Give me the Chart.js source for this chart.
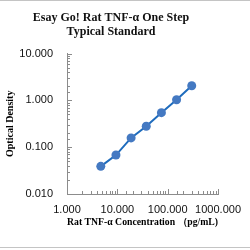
<!DOCTYPE html>
<html>
<head>
<meta charset="utf-8">
<script src="https://cdn.jsdelivr.net/npm/chart.js@4/dist/chart.umd.min.js"></script>
<style>
    html, body { margin: 0 ; padding: 0 ; background: #ffffff ; }
    #wrap { width: 250px ; height: 250px ; }
</style>
</head>
<body>
<div id="wrap"><canvas id="stdCurveCanvas" width="250" height="250"></canvas></div>
<script>
    // ---------------- Chart data ---------------------------------------------
    var concentrations = [ 4.69, 9.38, 18.75, 37.5, 75, 150, 300 ] ;
    var opticalDensity = [ 0.039, 0.068, 0.158, 0.280, 0.547, 1.035, 2.060 ] ;

    var titleLines  = [ 'Esay Go! Rat TNF-α One Step', 'Typical Standard' ] ;
    var xAxisTitle  = 'Rat TNF-α Concentration （pg/mL)' ;
    var yAxisTitle  = 'Optical Density' ;

    var xMin = 1, xMax = 1000 ;
    var yMin = 0.01, yMax = 10 ;

    // ---------------- Local functions ----------------------------------------
    function isDecade( value ) {
        var lg = Math.log10( value ) ;
        return Math.abs( lg - Math.round( lg ) ) < 1e-6 ;
    }

    function decadeLabel( value ) {
        return isDecade( value ) ? Number( value ).toFixed( 3 ) : '' ;
    }

    function getPoints() {
        var pts = [] ;
        for( var i=0; i<concentrations.length; i++ ) {
            pts.push( { x: concentrations[i], y: opticalDensity[i] } ) ;
        }
        return pts ;
    }

    // inside tick marks, like the Excel axes
    var innerTicksPlugin = {
        id : 'innerTicks',
        afterDraw : function( chart ) {
            var ctx = chart.ctx ;
            var xs = chart.scales.x ;
            var ys = chart.scales.y ;
            ctx.save() ;
            ctx.strokeStyle = '#8c8c8c' ;
            ctx.lineWidth = 1 ;
            ctx.beginPath() ;
            ys.ticks.forEach( function( t ) {
                var py = Math.round( ys.getPixelForValue( t.value ) ) + 0.5 ;
                var len = isDecade( t.value ) ? 5 : 3 ;
                ctx.moveTo( ys.right, py ) ;
                ctx.lineTo( ys.right + len, py ) ;
            } ) ;
            xs.ticks.forEach( function( t ) {
                var px = Math.round( xs.getPixelForValue( t.value ) ) + 0.5 ;
                var len = isDecade( t.value ) ? 5 : 3 ;
                ctx.moveTo( px, xs.top ) ;
                ctx.lineTo( px, xs.top - len ) ;
            } ) ;
            ctx.stroke() ;
            ctx.restore() ;
        }
    } ;

    // faint frame lines at the top and bottom of the picture
    var frameLinesPlugin = {
        id : 'frameLines',
        beforeDraw : function( chart ) {
            var ctx = chart.ctx ;
            ctx.save() ;
            ctx.strokeStyle = '#c4c4c4' ;
            ctx.lineWidth = 1 ;
            ctx.beginPath() ;
            ctx.moveTo( 0, 0.5 ) ;
            ctx.lineTo( chart.width, 0.5 ) ;
            ctx.moveTo( 0, chart.height - 2.5 ) ;
            ctx.lineTo( chart.width, chart.height - 2.5 ) ;
            ctx.stroke() ;
            ctx.restore() ;
        }
    } ;

    function getDataset() {
        return {
            label            : 'OD',
            data             : getPoints(),
            showLine         : true,
            borderColor      : '#1f6cbd',
            backgroundColor  : '#4479c2',
            borderWidth      : 2,
            tension          : 0,
            pointRadius      : 4.5,
            pointBorderWidth : 0,
            pointBackgroundColor : '#4479c2'
        } ;
    }

    function getScaleOptions() {
        return {
            x : {
                type : 'logarithmic',
                min  : xMin,
                max  : xMax,
                grid : { display: false, drawTicks: false },
                border : { display: true, color: '#8c8c8c', width: 1 },
                ticks : {
                    autoSkip : false,
                    maxRotation : 0,
                    padding : 9,
                    color : '#111111',
                    font : { family: 'Liberation Sans', size: 11 },
                    callback : function( value ) { return decadeLabel( value ) ; }
                },
                title : {
                    display : true,
                    text : xAxisTitle,
                    color : '#000000',
                    padding : { top: 0, bottom: 4 },
                    font : { family: 'Liberation Serif', size: 10, weight: 'bold' }
                },
                afterFit : function( scale ) { scale.height = 38 ; }
            },
            y : {
                type : 'logarithmic',
                min  : yMin,
                max  : yMax,
                grid : { display: false, drawTicks: false },
                border : { display: true, color: '#8c8c8c', width: 1 },
                ticks : {
                    autoSkip : false,
                    padding : 14,
                    color : '#111111',
                    font : { family: 'Liberation Sans', size: 11 },
                    callback : function( value ) { return decadeLabel( value ) ; }
                },
                title : {
                    display : true,
                    text : yAxisTitle,
                    color : '#000000',
                    padding : { top: 4, bottom: 0 },
                    font : { family: 'Liberation Serif', size: 10, weight: 'bold' }
                },
                afterFit : function( scale ) { scale.width = 67 ; }
            }
        } ;
    }

    function getChartOptions() {
        return {
            responsive : false,
            animation : false,
            layout : { padding: { left: 0, right: 28, top: 11, bottom: 18 } },
            plugins : {
                legend : { display: false },
                tooltip : { enabled: false },
                title : {
                    display : true,
                    text : titleLines,
                    color : '#111111',
                    padding : { top: 0, bottom: 15 },
                    font : { family: 'Liberation Serif', size: 12, weight: 'bold', lineHeight: 1.15 }
                }
            },
            scales : getScaleOptions()
        } ;
    }

    var canvas = document.getElementById( 'stdCurveCanvas' ) ;
    var chart = new Chart( canvas, {
        type : 'scatter',
        data : { datasets: [ getDataset() ] },
        options : getChartOptions(),
        plugins : [ innerTicksPlugin, frameLinesPlugin ]
    } ) ;
</script>
</body>
</html>
